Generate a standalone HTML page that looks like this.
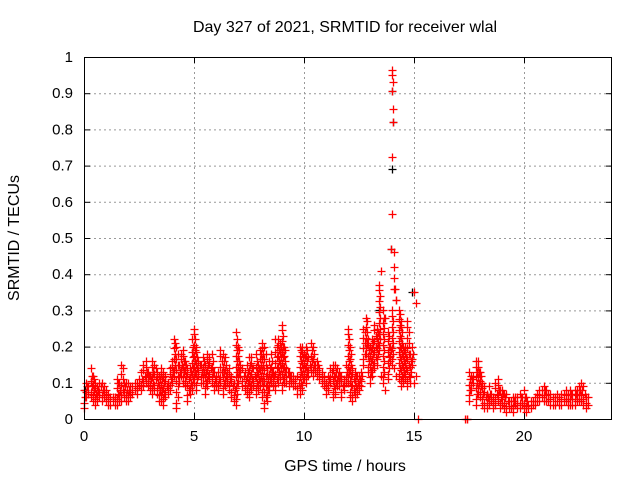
<!DOCTYPE html>
<html><head><meta charset="utf-8"><style>
html,body{margin:0;padding:0;background:#fff}
svg{display:block;font-family:"Liberation Sans",sans-serif}
</style></head><body>
<svg id="chart" width="640" height="480">
<text x="345" y="32" text-anchor="middle" font-size="16">Day 327 of 2021, SRMTID for receiver wlal</text>
<text x="345" y="471" text-anchor="middle" font-size="16">GPS time / hours</text>
<text transform="translate(19,238) rotate(-90)" text-anchor="middle" font-size="16">SRMTID / TECUs</text>
<g id="grid"></g><g id="marks"></g>
<rect x="84.5" y="57.5" width="527" height="362" fill="none" stroke="#000" stroke-width="1"/>
</svg>
<script>
const xTicks=[0,5,10,15,20];
const yTicks=[0,0.1,0.2,0.3,0.4,0.5,0.6,0.7,0.8,0.9,1];
const yTickLabels=["0","0.1","0.2","0.3","0.4","0.5","0.6","0.7","0.8","0.9","1"];
const segAStart=0, segBStart=17.4, step=0.1;
const segAHigh=[.08,.1,.09,.14,.12,.1,.09,.1,.1,.09,
.08,.07,.06,.06,.06,.11,.1,.15,.1,.1,
.1,.09,.09,.1,.1,.11,.13,.15,.16,.13,
.12,.16,.15,.13,.12,.14,.13,.12,.1,.14,
.16,.22,.2,.15,.18,.19,.16,.14,.14,.22,
.25,.2,.16,.15,.17,.15,.18,.17,.18,.13,
.12,.13,.19,.18,.17,.13,.14,.12,.1,.24,
.2,.15,.14,.13,.15,.17,.17,.14,.18,.15,
.19,.21,.2,.14,.16,.18,.13,.22,.22,.21,
.26,.2,.14,.13,.12,.12,.11,.12,.2,.2,
.18,.2,.17,.21,.2,.15,.16,.14,.13,.12,
.1,.12,.14,.15,.15,.14,.13,.12,.11,.15,
.25,.2,.14,.13,.12,.12,.13,.25,.28,.22,
.2,.22,.26,.25,.37,.41,.3,.28,.24,.2,
.3,.36,.33,.3,.27,.2,.2,.27,.18,.2,
.35,.32];
const segALow=[.03,.06,.07,.06,.05,.04,.05,.06,.05,.06,
.05,.04,.04,.05,.04,.04,.05,.05,.06,.05,
.05,.06,.07,.08,.07,.09,.08,.09,.1,.09,
.08,.07,.08,.07,.05,.05,.04,.06,.07,.08,
.1,.12,.03,.1,.12,.1,.09,.05,.07,.08,
.1,.08,.12,.1,.1,.07,.09,.11,.1,.08,
.09,.08,.1,.07,.09,.1,.08,.06,.05,.04,
.1,.12,.09,.08,.07,.06,.08,.09,.07,.08,
.09,.06,.03,.05,.08,.1,.09,.08,.1,.11,
.08,.1,.1,.09,.1,.09,.09,.07,.07,.08,
.11,.1,.12,.13,.12,.13,.12,.11,.1,.09,
.07,.08,.1,.06,.07,.09,.09,.06,.08,.1,
.1,.06,.05,.06,.07,.08,.09,.15,.18,.13,
.1,.12,.14,.15,.19,.12,.1,.08,.11,.16,
.15,.14,.12,.11,.09,.1,.11,.09,.1,.15,
.1,.12];
const segBHigh=[0,.13,.12,.12,.16,.16,
.13,.1,.09,.07,.09,.07,.06,.1,.11,.08,
.08,.07,.07,.05,.05,.06,.06,.06,.07,.06,
.08,.06,.04,.05,.05,.06,.07,.08,.08,.09,
.08,.07,.07,.06,.06,.07,.06,.07,.07,.08,
.07,.08,.07,.08,.08,.09,.1,.09,.06,.06];
const segBLow=[0,.05,.08,.1,.04,.07,
.06,.04,.03,.03,.04,.05,.03,.04,.05,.03,
.04,.03,.02,.03,.03,.02,.04,.03,.03,.04,
.03,.02,.03,.03,.04,.04,.05,.05,.06,.05,
.05,.05,.04,.04,.04,.05,.04,.04,.05,.05,
.04,.04,.04,.04,.05,.05,.05,.04,.03,.04];
const extraT=[14.0,14.02,14.05,14.05,14.0,14.05,14.0,14.0,13.95,14.1,14.08,14.1,14.15,14.2,15.2,17.3];
const extraV=[.965,.95,.93,.855,.905,.82,.565,.725,.47,.46,.42,.39,.36,.33,0,0];
const blackT=[0.05,13.95,14.0,14.05,14.0,14.9,13.4];
const blackV=[.08,.47,.905,.82,.69,.35,.3];

const X=h=>84+h*22, Y=v=>419-v*362;
const ns="http://www.w3.org/2000/svg";
const grid=document.getElementById('grid'), marks=document.getElementById('marks');
function line(p,x1,y1,x2,y2,st,dash){const l=document.createElementNS(ns,'line');
l.setAttribute('x1',x1);l.setAttribute('y1',y1);l.setAttribute('x2',x2);l.setAttribute('y2',y2);
l.setAttribute('stroke',st);if(dash)l.setAttribute('stroke-dasharray',dash);p.appendChild(l);return l;}
function txt(p,x,y,s,anchor){const t=document.createElementNS(ns,'text');t.setAttribute('x',x);t.setAttribute('y',y);
t.setAttribute('font-size','15');t.setAttribute('text-anchor',anchor);t.textContent=s;p.appendChild(t);return t;}
xTicks.forEach(v=>{const x=X(v)+0.5;
if(v>0){const g=line(grid,x,57,x,419,'#999','2,3');

}
line(grid,x,419,x,413,'#000');line(grid,x,57,x,63,'#000');
const t=txt(grid,X(v),441,String(v),'middle');

});
yTicks.forEach((v,i)=>{const y=Y(v)+0.5;
if(v>0&&v<1){const g=line(grid,84,y,612,y,'#999','2,3');

}
line(grid,84,y,90,y,'#000');line(grid,612,y,606,y,'#000');
const t=txt(grid,73,Y(v)+5,yTickLabels[i],'end');

});
function plus(t,v,col){const g=document.createElementNS(ns,'path');
const x=Math.round(X(t))+0.5,y=Math.round(Y(v))+0.5;
g.setAttribute('d',`M${x-4} ${y}H${x+4}M${x} ${y-4}V${y+4}`);
g.setAttribute('stroke',col);g.setAttribute('stroke-width','1.3');g.setAttribute('fill','none');


marks.appendChild(g);}
function column(t,hi,lo){plus(t,hi,'#f00');plus(t,lo,'#f00');
if(hi-lo<0.2){let k=0;for(let v=lo+0.015;v<hi-0.008;v+=0.015){plus(t+step/2*(k%2),v,'#f00');k++;}}}
blackT.forEach((t,i)=>plus(t,blackV[i],'#000'));
segAHigh.forEach((v,i)=>column(segAStart+i*step,v,segALow[i]));
segBHigh.forEach((v,i)=>column(segBStart+i*step,v,segBLow[i]));
extraT.forEach((t,i)=>plus(t,extraV[i],'#f00'));
</script>
</body></html>
